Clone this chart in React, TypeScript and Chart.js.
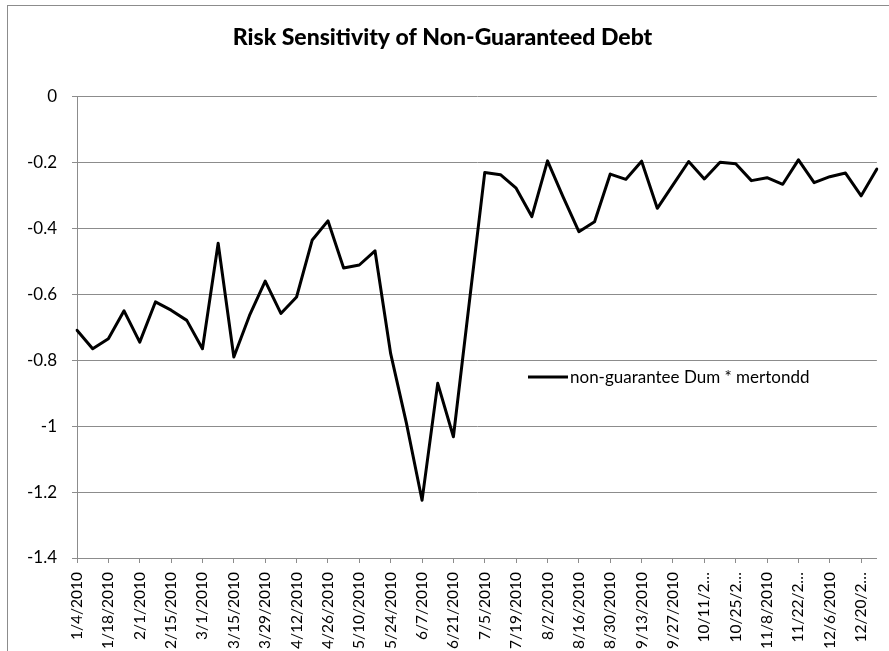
import React, { useEffect, useRef } from "react";
import { Chart, registerables } from "chart.js";

Chart.register(...registerables);

const chartTitle = "Risk Sensitivity of Non-Guaranteed Debt";
const seriesName = "non-guarantee Dum * mertondd";

const categories = [
  "1/4/2010", "1/11/2010", "1/18/2010", "1/25/2010",
  "2/1/2010", "2/8/2010", "2/15/2010", "2/22/2010",
  "3/1/2010", "3/8/2010", "3/15/2010", "3/22/2010", "3/29/2010",
  "4/5/2010", "4/12/2010", "4/19/2010", "4/26/2010",
  "5/3/2010", "5/10/2010", "5/17/2010", "5/24/2010", "5/31/2010",
  "6/7/2010", "6/14/2010", "6/21/2010", "6/28/2010",
  "7/5/2010", "7/12/2010", "7/19/2010", "7/26/2010",
  "8/2/2010", "8/9/2010", "8/16/2010", "8/23/2010", "8/30/2010",
  "9/6/2010", "9/13/2010", "9/20/2010", "9/27/2010",
  "10/4/2010", "10/11/2010", "10/18/2010", "10/25/2010",
  "11/1/2010", "11/8/2010", "11/15/2010", "11/22/2010", "11/29/2010",
  "12/6/2010", "12/13/2010", "12/20/2010", "12/27/2010",
];

const seriesValues = [
  -0.709, -0.765, -0.735, -0.650,
  -0.745, -0.623, -0.648, -0.679,
  -0.765, -0.445, -0.790, -0.664, -0.560,
  -0.658, -0.608, -0.435, -0.377,
  -0.520, -0.511, -0.468, -0.780, -0.990,
  -1.225, -0.870, -1.032, -0.630,
  -0.230, -0.237, -0.278, -0.364,
  -0.195, -0.305, -0.410, -0.380, -0.235,
  -0.251, -0.196, -0.339, -0.268,
  -0.197, -0.250, -0.199, -0.204,
  -0.255, -0.246, -0.266, -0.192, -0.261,
  -0.243, -0.232, -0.301, -0.220,
];

const yMin = -1.4;
const yMax = 0;
const yStep = 0.2;

const FONT = "Lato, 'Open Sans', sans-serif";
const GRID = "#8c8c8c";

function shortLabel(label: string): string {
  return label.length > 9 ? label.slice(0, 7) + "\u2026" : label;
}

const framePlugin = {
  id: "frame",
  beforeDraw(chart: any) {
    const ctx = chart.ctx;
    ctx.save();
    ctx.fillStyle = "#ffffff";
    ctx.fillRect(0, 0, chart.width, chart.height);
    ctx.strokeStyle = GRID;
    ctx.lineWidth = 1;
    ctx.strokeRect(7.5, 5.5, chart.width + 40, chart.height + 40);
    ctx.restore();
  },
  afterDraw(chart: any) {
    const ctx = chart.ctx;
    const ds = chart.data.datasets[0];
    const x0 = 528;
    const y0 = 377;
    ctx.save();
    ctx.strokeStyle = ds.borderColor;
    ctx.lineWidth = 3;
    ctx.beginPath();
    ctx.moveTo(x0, y0);
    ctx.lineTo(x0 + 40, y0);
    ctx.stroke();
    ctx.fillStyle = "#000";
    ctx.font = `17px ${FONT}`;
    ctx.textBaseline = "middle";
    ctx.textAlign = "left";
    ctx.fillText(ds.label, x0 + 42, y0 + 1);
    ctx.restore();
  },
};

export default function App() {
  const canvasRef = useRef<HTMLCanvasElement | null>(null);

  useEffect(() => {
    const canvas = canvasRef.current;
    if (!canvas) return;
    const chart = new Chart(canvas, {
      type: "line",
      data: {
        labels: categories,
        datasets: [
          {
            label: seriesName,
            data: seriesValues,
            borderColor: "#000000",
            backgroundColor: "#000000",
            borderWidth: 3,
            pointRadius: 0,
            tension: 0,
            borderJoinStyle: "round",
            borderCapStyle: "round",
          },
        ],
      },
      options: {
        responsive: false,
        animation: false,
        layout: { padding: { left: 7, right: 11, top: 6, bottom: 0 } },
        plugins: {
          legend: { display: false },
          tooltip: { enabled: false },
          title: {
            display: true,
            text: chartTitle,
            color: "#000",
            font: { family: FONT, size: 23, weight: "900" },
            padding: { top: 18, bottom: 45 },
          },
        },
        scales: {
          x: {
            type: "category",
            offset: false,
            grid: {
              drawOnChartArea: false,
              drawTicks: true,
              tickLength: 5,
              color: GRID,
            },
            border: { display: true, color: GRID },
            ticks: {
              autoSkip: false,
              maxRotation: 90,
              minRotation: 90,
              padding: 9,
              color: "#000",
              font: { family: FONT, size: 15.5 },
              callback: (_v: any, i: number) =>
                i % 2 === 0 ? shortLabel(categories[i]) : null,
            },
            afterFit: (scale: any) => {
              scale.height = 93;
            },
          },
          y: {
            min: yMin,
            max: yMax,
            grid: { color: GRID, tickLength: 5, drawTicks: true },
            border: { display: true, color: GRID },
            ticks: {
              stepSize: yStep,
              padding: 15,
              color: "#000",
              font: { family: FONT, size: 17 },
              callback: (v: any) => String(Number(Number(v).toFixed(1))),
            },
            afterFit: (scale: any) => {
              scale.width = 70;
            },
          },
        },
      },
      plugins: [framePlugin],
    });
    return () => chart.destroy();
  }, []);

  return (
    <div style={{ position: "fixed", left: 0, top: 0, width: 889, height: 651, background: "#fff" }}>
      <canvas ref={canvasRef} width={889} height={651} style={{ display: "block" }} />
    </div>
  );
}
